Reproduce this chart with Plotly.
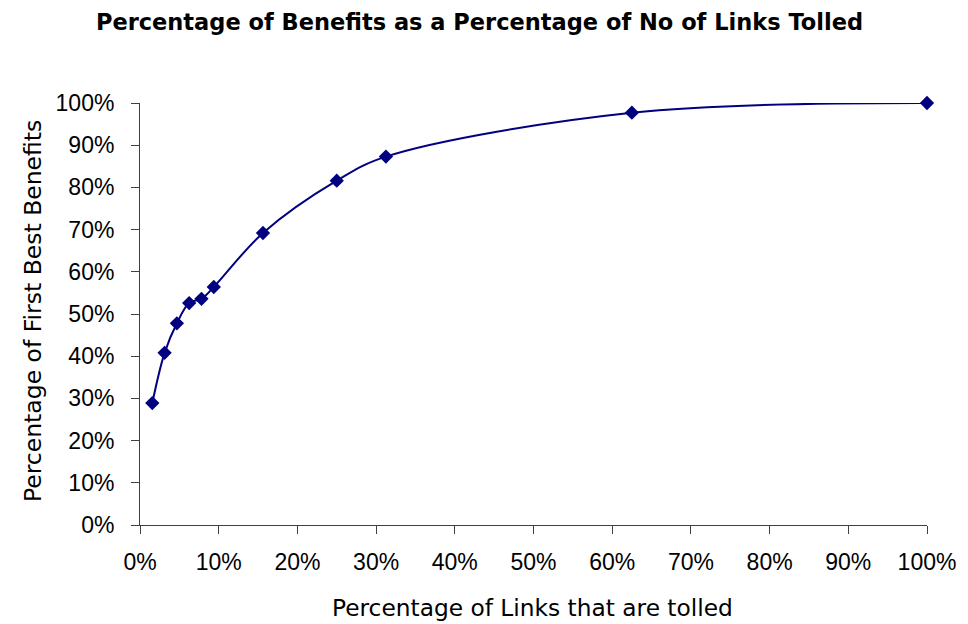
import plotly.graph_objects as go

# Share of network links that carry a toll (%)
links_tolled = [1.5625, 3.125, 4.6875, 6.25, 7.8125, 9.375, 15.625, 25.0, 31.25, 62.5, 100.0]
# Benefits achieved, as a share of first-best benefits (%)
benefits = [28.9, 40.8, 47.8, 52.6, 53.6, 56.4, 69.2, 81.6, 87.3, 97.7, 100.0]

tick_vals = list(range(0, 101, 10))
tick_text = [f"{v}%" for v in tick_vals]

title_text = "Percentage of Benefits as a Percentage of No of Links Tolled"
x_title = "Percentage of Links that are tolled"
y_title = "Percentage of First Best Benefits"

navy = "#000080"
axis_col = "#404040"

fig = go.Figure()
fig.add_trace(go.Scatter(
    x=links_tolled,
    y=benefits,
    mode="lines+markers",
    line=dict(color=navy, width=2, shape="spline", smoothing=1.0),
    marker=dict(symbol="diamond", size=11, color=navy),
    cliponaxis=False,
    showlegend=False,
))

fig.update_layout(
    width=968,
    height=624,
    margin=dict(l=140, r=33, t=103, b=99),
    paper_bgcolor="white",
    plot_bgcolor="white",
    font=dict(family="Liberation Sans, Arial, sans-serif", color="black"),
    title=dict(
        text=f"<b>{title_text}</b>",
        font=dict(family="DejaVu Sans, sans-serif", size=22.5, color="black"),
        xref="container", yref="container",
        x=479.5 / 968, xanchor="center",
        y=1 - 22 / 624, yanchor="middle",
    ),
)

fig.update_xaxes(
    range=[0, 100],
    tickvals=tick_vals,
    ticktext=tick_text,
    ticks="outside",
    ticklen=8,
    tickcolor=axis_col,
    tickfont=dict(size=23),
    ticklabelstandoff=8,
    showline=True,
    linecolor=axis_col,
    linewidth=1,
    showgrid=False,
    zeroline=False,
    fixedrange=True,
)
fig.update_yaxes(
    range=[0, 100],
    tickvals=tick_vals,
    ticktext=tick_text,
    ticks="outside",
    ticklen=8,
    tickcolor=axis_col,
    tickfont=dict(size=23),
    ticklabelstandoff=12,
    showline=True,
    linecolor=axis_col,
    linewidth=1,
    showgrid=False,
    zeroline=False,
    fixedrange=True,
)

# Axis titles placed as annotations relative to the plot area
fig.add_annotation(
    text=x_title, xref="paper", yref="paper",
    x=(536.5 - 140) / 795, y=(525 - 607) / 422,
    xanchor="center", yanchor="middle", showarrow=False,
    font=dict(family="DejaVu Sans, sans-serif", size=23.3, color="black"),
)
fig.add_annotation(
    text=y_title, xref="paper", yref="paper",
    x=(32 - 140) / 795, y=(525 - 311) / 422,
    xanchor="center", yanchor="middle", textangle=-90, showarrow=False,
    font=dict(family="DejaVu Sans, sans-serif", size=23.5, color="black"),
)

fig.write_html("out.html")
